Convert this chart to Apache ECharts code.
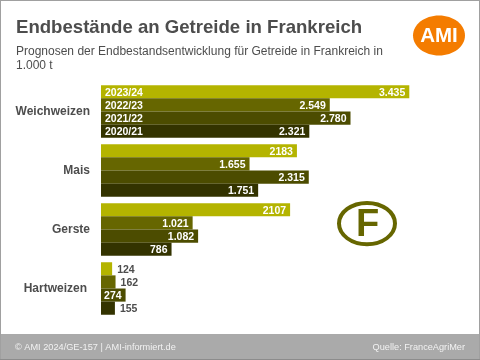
<!DOCTYPE html>
<html>
<head>
<meta charset="utf-8">
<title>Endbestände an Getreide in Frankreich</title>
<style>
html,body{margin:0;padding:0;background:#fff;}
#chart{width:480px;height:360px;}
</style>
<script src="https://cdn.jsdelivr.net/npm/echarts@6/dist/echarts.min.js"></script>
</head>
<body>
<div id="chart"></div>
<script>
var categories = ['Weichweizen', 'Mais', 'Gerste', 'Hartweizen'];
var years = ['2023/24', '2022/23', '2021/22', '2020/21'];

// Werte je Wirtschaftsjahr, Reihenfolge wie categories
var v2023 = [3435, 2183, 2107, 124];
var v2022 = [2549, 1655, 1021, 162];
var v2021 = [2780, 2315, 1082, 274];
var v2020 = [2321, 1751, 786, 155];

// Beschriftung wie im Original (2183 und 2107 ohne Punkt)
var labels2023 = ['3.435', '2183', '2107', '124'];
var labels2022 = ['2.549', '1.655', '1.021', '162'];
var labels2021 = ['2.780', '2.315', '1.082', '274'];
var labels2020 = ['2.321', '1.751', '786', '155'];

var colors = ['#b4b400', '#666600', '#4c4c00', '#333300'];
var fontName = '"Liberation Sans", Arial, sans-serif';

var values = [v2023, v2022, v2021, v2020];
var texts = [labels2023, labels2022, labels2021, labels2020];

function valueSeries(i) {
    return {
        name: years[i],
        type: 'bar',
        barGap: 0,
        barCategoryGap: '11%',
        silent: true,
        itemStyle: {color: colors[i]},
        data: values[i].map(function (v, c) {
            var item = {value: v};
            // zu kurze Balken: Zahl rechts daneben
            if (v < 200) {
                item.label = {position: 'right', distance: 5, color: '#4d4d4d'};
            }
            return item;
        }),
        label: {
            show: true,
            position: 'insideRight',
            distance: 4,
            offset: [0, 1],
            color: '#fff',
            fontFamily: fontName,
            fontWeight: 'bold',
            fontSize: 10.5,
            formatter: function (p) {
                return texts[i][p.dataIndex];
            }
        }
    };
}

// Jahreszahlen nur in der ersten Gruppe, liegen ueber den Balken auf der zweiten Achse
function yearSeries(i) {
    return {
        type: 'bar',
        xAxisIndex: 1,
        yAxisIndex: 1,
        barGap: 0,
        barCategoryGap: '11%',
        silent: true,
        z: 5,
        itemStyle: {color: 'transparent'},
        data: [3435, 0, 0, 0],
        label: {
            show: true,
            position: 'insideLeft',
            distance: 4,
            offset: [0, 1],
            color: '#fff',
            fontFamily: fontName,
            fontWeight: 'bold',
            fontSize: 10.5,
            formatter: function (p) {
                return p.dataIndex === 0 ? years[i] : '';
            }
        }
    };
}

var myChart = echarts.init(document.getElementById('chart'), null, {renderer: 'canvas'});

var option = {
    animation: false,
    backgroundColor: '#fff',
    title: [
        {
            text: 'Endbestände an Getreide in Frankreich',
            left: 16,
            top: 18,
            padding: 0,
            textStyle: {fontFamily: fontName, fontSize: 18.6, fontWeight: 'bold', color: '#4d4d4d'}
        },
        {
            text: 'Prognosen der Endbestandsentwicklung für Getreide in Frankreich in\n1.000 t',
            left: 16,
            top: 45,
            padding: 0,
            textStyle: {fontFamily: fontName, fontSize: 12, fontWeight: 'normal', color: '#4d4d4d', lineHeight: 14}
        },
        {
            text: '© AMI 2024/GE-157 | AMI-informiert.de',
            left: 15,
            top: 343,
            padding: 0,
            textStyle: {fontFamily: fontName, fontSize: 9.2, fontWeight: 'normal', color: '#f2f2f2'}
        },
        {
            text: 'Quelle: FranceAgriMer',
            right: 15,
            top: 343,
            padding: 0,
            textStyle: {fontFamily: fontName, fontSize: 9.2, fontWeight: 'normal', color: '#f2f2f2'}
        }
    ],
    grid: {left: 101, right: 20, top: 82, bottom: 42},
    xAxis: [
        {type: 'value', min: 0, max: 4000, show: false},
        {type: 'value', min: 0, max: 4000, show: false}
    ],
    yAxis: [
        {
            type: 'category',
            inverse: true,
            data: categories,
            axisLine: {show: false},
            axisTick: {show: false},
            axisLabel: {
                margin: 11,
                fontFamily: fontName,
                fontWeight: 'bold',
                fontSize: 12,
                color: '#4d4d4d',
                // Hartweizen steht im Original etwas weiter links
                formatter: function (name) {
                    return name === 'Hartweizen' ? '{h|' + name + '}' : name;
                },
                rich: {
                    h: {padding: [0, 3, 0, 0], fontFamily: fontName, fontWeight: 'bold', fontSize: 12, color: '#4d4d4d'}
                }
            }
        },
        {type: 'category', inverse: true, data: categories, show: false}
    ],
    series: [0, 1, 2, 3].map(valueSeries).concat([0, 1, 2, 3].map(yearSeries)),
    graphic: [
        // Fusszeile und Rahmen
        {type: 'rect', z: -1, shape: {x: 0, y: 334, width: 480, height: 25}, style: {fill: '#aaaaaa'}},
        {type: 'rect', z: -1, shape: {x: 0, y: 0, width: 480, height: 1}, style: {fill: '#a0a0a0'}},
        {type: 'rect', z: -1, shape: {x: 0, y: 0, width: 1, height: 360}, style: {fill: '#a0a0a0'}},
        {type: 'rect', z: -1, shape: {x: 479, y: 0, width: 1, height: 360}, style: {fill: '#a0a0a0'}},
        {type: 'rect', z: -1, shape: {x: 0, y: 359, width: 480, height: 1}, style: {fill: '#8c8c8c'}},
        // AMI Logo
        {type: 'ellipse', shape: {cx: 439, cy: 35.5, rx: 26, ry: 20}, style: {fill: '#f47c00'}},
        {
            type: 'text',
            x: 439,
            y: 36,
            style: {
                text: 'AMI',
                fill: '#fff',
                font: 'bold 20.5px ' + fontName,
                align: 'center',
                verticalAlign: 'middle'
            }
        },
        // Laenderkennzeichen
        {
            type: 'ellipse',
            shape: {cx: 367, cy: 223.6, rx: 28, ry: 20.7},
            style: {fill: 'none', stroke: '#666600', lineWidth: 4}
        },
        {
            type: 'text',
            x: 367.5,
            y: 226,
            style: {
                text: 'F',
                fill: '#666600',
                font: 'bold 38px ' + fontName,
                align: 'center',
                verticalAlign: 'middle'
            }
        }
    ]
};

myChart.setOption(option);
</script>
</body>
</html>
